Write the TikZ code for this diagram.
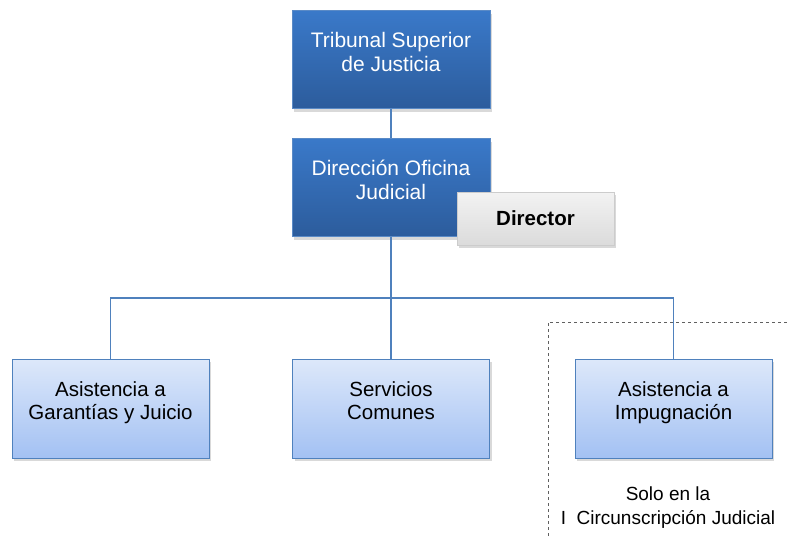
\documentclass[tikz,border=0pt]{standalone}
\usepackage{fontspec}
\setmainfont{Liberation Sans}
\usetikzlibrary{shadows}
\definecolor{azulosc}{HTML}{3A79C9}
\definecolor{azulfon}{HTML}{2C5C9C}
\definecolor{azulbor}{HTML}{5A8AC6}
\definecolor{celeste}{HTML}{DDE8FA}
\definecolor{celfon}{HTML}{A3C1F3}
\definecolor{linea}{HTML}{4F81BD}
\tikzset{
  jefe/.style={draw=azulbor, line width=1pt, top color=azulosc, bottom color=azulfon, text=white,
    minimum width=198pt, minimum height=98pt, align=center, font=\fontsize{21}{24}\selectfont,
    text depth=16pt, drop shadow={opacity=0.3, shadow xshift=2pt, shadow yshift=-3pt}},
  unidad/.style={draw=linea, line width=1pt, top color=celeste, bottom color=celfon, text=black,
    minimum width=197pt, minimum height=99pt, align=center, font=\fontsize{20.5}{23.5}\selectfont,
    text depth=16pt, drop shadow={opacity=0.3, shadow xshift=2pt, shadow yshift=-3pt}},
  cargo/.style={draw=gray!40, top color=gray!10, bottom color=gray!28, text=black,
    minimum width=157pt, minimum height=53pt, font=\fontsize{20.5}{22}\bfseries\selectfont,
    drop shadow={opacity=0.3, shadow xshift=2pt, shadow yshift=-3pt}},
  con/.style={draw=linea, line width=1.4pt},
  nota/.style={align=center, font=\fontsize{19}{24}\selectfont}
}
\begin{document}
\begin{tikzpicture}[x=1pt, y=-1pt]
  \useasboundingbox (0,0) rectangle (787,536);
  % zona de la I Circunscripcion
  \coordinate (z0) at (548,536);
  \coordinate (z1) at (548,322);
  \coordinate (z2) at (787,322);
  \draw[gray!75!black, dashed, line width=0.9pt] (z0) -- (z1) -- (z2);
  % cabeceras
  \node[jefe] (tsj) at (391,59.5) {Tribunal Superior\\de Justicia};
  \node[jefe] (doj) at (391,187.5) {Dirección Oficina\\Judicial};
  \node[cargo] (dir) at (535.5,218.5) {Director};
  % unidades
  \node[unidad] (agj) at (110.5,408.5) {Asistencia a\\Garantías y Juicio};
  \node[unidad] (sc) at (391,408.5) {Servicios\\Comunes};
  \node[unidad] (ai) at (673.5,408.5) {Asistencia a\\Impugnación};
  \node[nota] (solo) at (668,508) {Solo en la\\I\ \ Circunscripción Judicial};
  % conexiones
  \coordinate (bus) at (391,298);
  \draw[con] (tsj) -- (doj);
  \draw[con] (doj) -- (bus);
  \draw[con] (bus) -| (agj.north);
  \draw[con] (bus) -- (sc);
  \draw[con] (bus) -| (ai.north);
\end{tikzpicture}
\end{document}
